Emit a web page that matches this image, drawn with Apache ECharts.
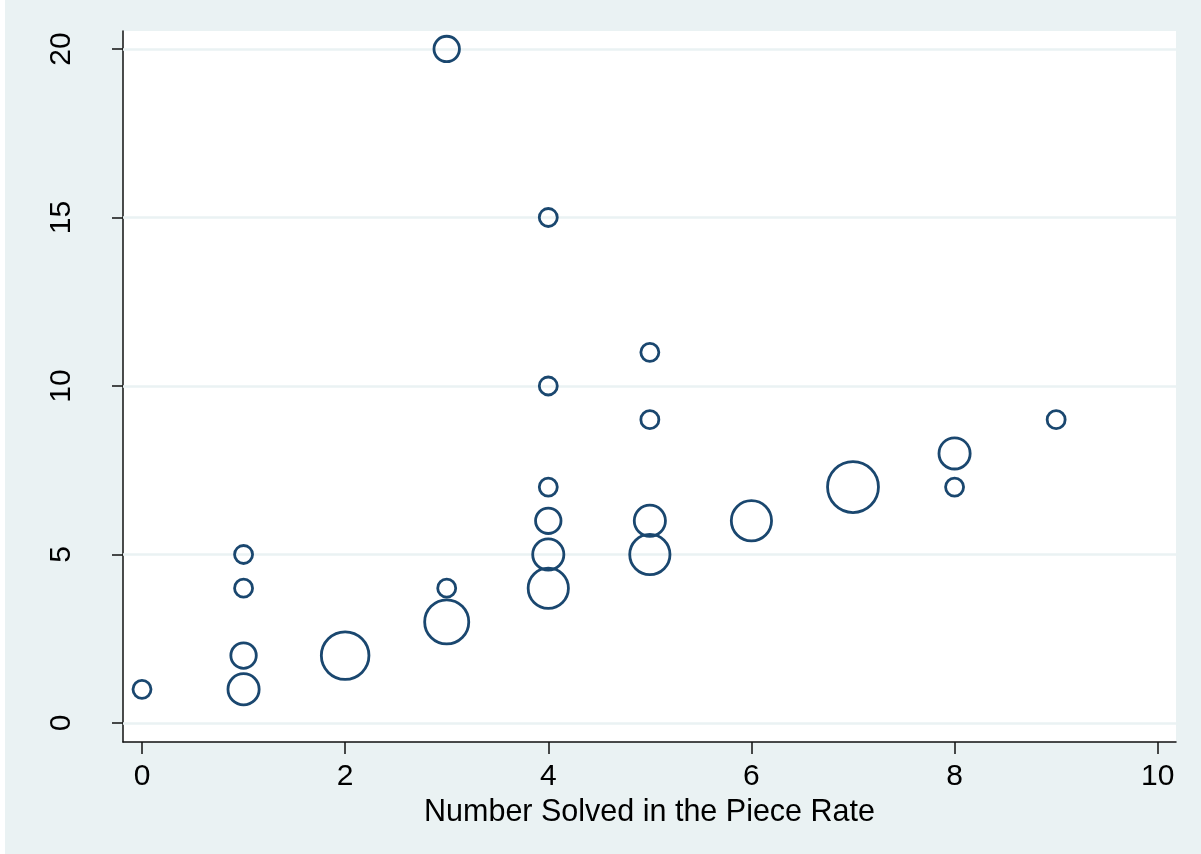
<!DOCTYPE html>
<html>
<head>
<meta charset="utf-8">
<script src="https://cdn.jsdelivr.net/npm/echarts@6/dist/echarts.min.js"></script>
<style>
html,body{margin:0;padding:0;background:#ffffff;}
#c{width:1201px;height:854px;}
</style>
</head>
<body>
<div id="c"></div>
<script>
// Data
const xVals   = [0, 1, 1, 1, 1, 2, 3, 3, 3, 4, 4, 4, 4, 4, 4, 5, 5, 5, 5, 6, 7, 8, 8, 9];
const yVals   = [1, 5, 4, 2, 1, 2, 20, 4, 3, 15, 10, 7, 6, 5, 4, 11, 9, 6, 5, 6, 7, 8, 7, 9];
const weights = [1, 1, 1, 2, 3, 7, 2, 1, 6, 1, 1, 1, 2, 3, 5, 1, 1, 3, 5, 5, 8, 3, 1, 1];
const xTicks  = [0, 2, 4, 6, 8, 10];
const yTicks  = [0, 5, 10, 15, 20];
const xTitle  = 'Number Solved in the Piece Rate';

const points = xVals.map((x, i) => [x, yVals[i], weights[i]]);
const FONT = "'Liberation Sans', Arial, Helvetica, sans-serif";
const NAVY = '#1a476f';
const BG = '#eaf2f3';

const chart = echarts.init(document.getElementById('c'), null, {renderer: 'canvas'});
chart.setOption({
  backgroundColor: BG,
  animation: false,
  graphic: [{type: 'rect', left: 0, top: 0, shape: {width: 5, height: 854}, style: {fill: '#ffffff'}, silent: true}],
  grid: {left: 123, right: 25, top: 31, bottom: 112, show: true, backgroundColor: '#ffffff', borderWidth: 0},
  xAxis: {
    type: 'value', min: -0.187, max: 10.18,
    splitLine: {show: false},
    axisLine: {show: true, onZero: false, lineStyle: {color: '#111', width: 1.5}},
    axisTick: {show: true, customValues: xTicks, length: 12, lineStyle: {color: '#111', width: 1.5}},
    axisLabel: {customValues: xTicks, fontFamily: FONT, fontSize: 30, color: '#000', margin: 20},
    name: xTitle, nameLocation: 'middle', nameGap: 50,
    nameTextStyle: {fontFamily: FONT, fontSize: 30.5, color: '#000'}
  },
  yAxis: {
    type: 'value', min: -0.564, max: 20.534,
    splitLine: {show: false},
    axisLine: {show: true, onZero: false, lineStyle: {color: '#111', width: 1.5}},
    axisTick: {show: true, customValues: yTicks, length: 11, lineStyle: {color: '#111', width: 1.5}},
    axisLabel: {customValues: yTicks, rotate: 90, fontFamily: FONT, fontSize: 30, color: '#000', margin: 46}
  },
  series: [
    {
      type: 'scatter', data: [], z: 1, silent: true,
      markLine: {
        silent: true, symbol: 'none', label: {show: false}, z: 1,
        lineStyle: {color: BG, width: 2.5, type: 'solid', opacity: 1},
        data: yTicks.map(v => ({yAxis: v}))
      }
    },
    {
      type: 'scatter', z: 10,
      data: points,
      symbol: 'circle',
      symbolSize: d => 18 * Math.sqrt(d[2]),
      itemStyle: {color: 'rgba(0,0,0,0)', borderColor: NAVY, borderWidth: 2.8, opacity: 1}
    }
  ]
});
</script>
</body>
</html>
